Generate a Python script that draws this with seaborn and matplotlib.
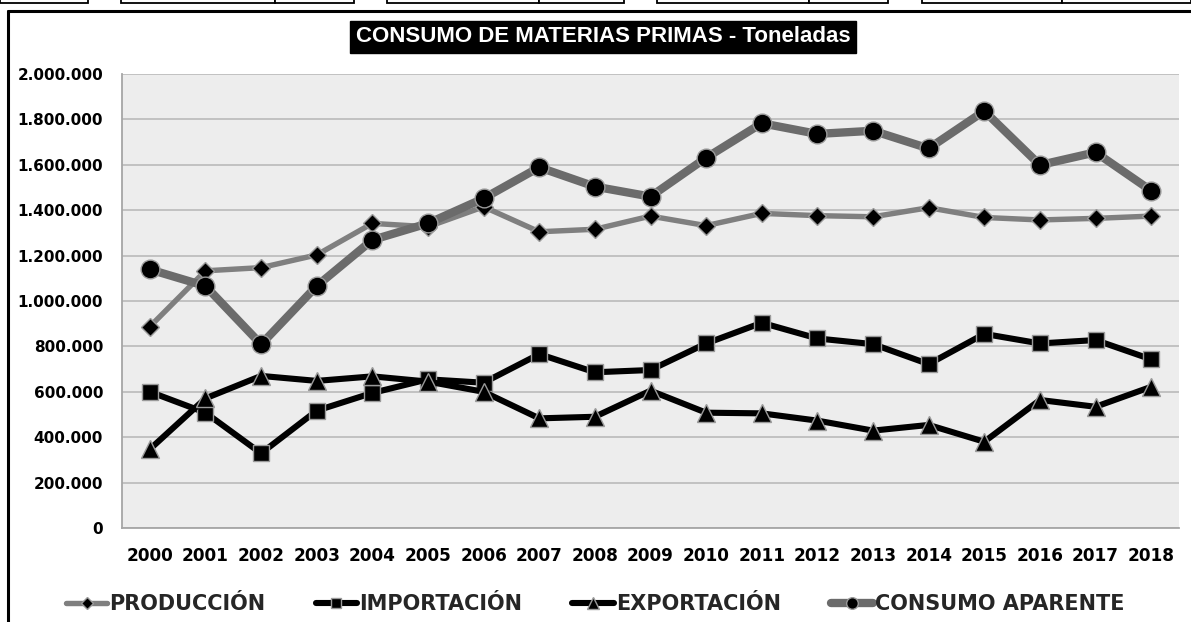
import matplotlib
matplotlib.use("Agg")
import matplotlib.pyplot as plt
from matplotlib.lines import Line2D
from matplotlib.patches import Rectangle
from matplotlib.ticker import FuncFormatter, FixedLocator
import seaborn as sns
import numpy as np
import pandas as pd

years = [str(y) for y in range(2000, 2019)]
produccion = [887000, 1133000, 1147000, 1203000, 1342000, 1327000, 1415000, 1305000, 1316000,
              1374000, 1332000, 1386000, 1376000, 1371000, 1411000, 1368000, 1357000, 1364000, 1374000]
importacion = [600000, 508000, 329000, 517000, 595000, 655000, 640000, 766000, 686000,
               696000, 813000, 904000, 835000, 810000, 722000, 855000, 813000, 828000, 743000]
exportacion = [347000, 571000, 670000, 648000, 668000, 645000, 600000, 483000, 490000,
               605000, 508000, 505000, 473000, 429000, 454000, 380000, 564000, 534000, 622000]
consumo = [1139000, 1066000, 809000, 1066000, 1269000, 1342000, 1452000, 1589000, 1504000,
           1460000, 1631000, 1783000, 1736000, 1750000, 1672000, 1837000, 1599000, 1655000, 1486000]
series_names = ["PRODUCCIÓN", "IMPORTACIÓN", "EXPORTACIÓN", "CONSUMO APARENTE"]
title = "CONSUMO DE MATERIAS PRIMAS - Toneladas"

sns.set_style("white")
plt.rcParams["font.family"] = ["DejaVu Sans"]

W, H = 1191, 622
fig = plt.figure(figsize=(W / 100, H / 100), dpi=100)
fig.patch.set_facecolor("white")

ax = fig.add_axes([122 / W, 1 - 528 / H, (1179 - 122) / W, (528 - 74) / H])
ax.set_facecolor("#EDEDED")

x = np.arange(len(years))
df = pd.DataFrame({"x": x, "prod": produccion, "imp": importacion,
                   "exp": exportacion, "cons": consumo})

styles = [
    ("prod", series_names[0], "#7F7F7F", 3.9, "D", 9.5),
    ("imp", series_names[1], "#000000", 4.4, "s", 12),
    ("exp", series_names[2], "#000000", 4.4, "^", 13),
    ("cons", series_names[3], "#6B6B6B", 6.0, "o", 13.5),
]
for i, (col, name, color, lw, mk, ms) in enumerate(styles):
    sns.lineplot(data=df, x="x", y=col, ax=ax, color=color, linewidth=lw,
                 marker=mk, markersize=ms, markerfacecolor="black",
                 markeredgecolor="#9A9A9A", markeredgewidth=1.0,
                 label=name, zorder=3 + i, solid_joinstyle="round", solid_capstyle="round")

ax.set_xlim(-0.5, len(years) - 0.5)
ax.set_ylim(0, 2000000)
ax.set_xlabel("")
ax.set_ylabel("")

ax.yaxis.set_major_locator(FixedLocator(np.arange(0, 2000001, 200000)))
ax.yaxis.set_major_formatter(FuncFormatter(lambda v, p: f"{int(v):,}".replace(",", ".")))
ax.grid(axis="y", color="#BEBEBE", linewidth=1.3, zorder=0)
ax.set_axisbelow(True)

ax.set_xticks(x)
ax.set_xticklabels(years)
ax.set_xticks(np.arange(-0.5, len(years)), minor=True)
ax.tick_params(axis="x", which="major", length=0, pad=14, labelsize=12.2)
ax.tick_params(axis="x", which="minor", length=4, width=1.2, color="#A6A6A6", direction="out")
ax.tick_params(axis="y", which="major", length=3.6, width=1.2, color="#A6A6A6", pad=10, labelsize=11)
for lab in ax.get_xticklabels() + ax.get_yticklabels():
    lab.set_fontweight("bold")
    lab.set_color("black")

for s in ["top", "right"]:
    ax.spines[s].set_visible(False)
for s in ["left", "bottom"]:
    ax.spines[s].set_color("#A6A6A6")
    ax.spines[s].set_linewidth(1.3)

handles, labels = ax.get_legend_handles_labels()
ax.get_legend().remove()
fig.legend(handles, labels, loc="center", bbox_to_anchor=(595 / W, 1 - 604 / H),
           ncol=4, frameon=False, handlelength=2.0, handletextpad=0.1, columnspacing=2.4,
           markerscale=0.62,
           prop={"family": "DejaVu Sans", "weight": "bold", "size": 15})

# title in black box
fig.text(603 / W, 1 - 37 / H, title, ha="center", va="center", color="white",
         fontsize=16, fontweight="bold", family="Liberation Sans",
         bbox=dict(boxstyle="square,pad=0.25", facecolor="black", edgecolor="black"))

# outer chart border
fig.add_artist(Line2D([7.5 / W, 1.0], [1 - 10.5 / H, 1 - 10.5 / H], color="black", lw=2.2,
                      transform=fig.transFigure))
fig.add_artist(Line2D([7.5 / W, 7.5 / W], [0, 1 - 10.5 / H], color="black", lw=2.2,
                      transform=fig.transFigure))

# spreadsheet cell edges at the very top
cells = [(0, 88), (121, 275), (275, 354), (387, 539), (539, 624), (657, 809), (809, 888),
         (922, 1062), (1062, 1191)]
for a, b in cells:
    fig.add_artist(Rectangle((a / W, 1 - 2.5 / H), (b - a) / W, 6 / H, transform=fig.transFigure,
                             facecolor="white", edgecolor="black", lw=1.3))

fig.savefig("out.png", dpi=100, facecolor="white")
